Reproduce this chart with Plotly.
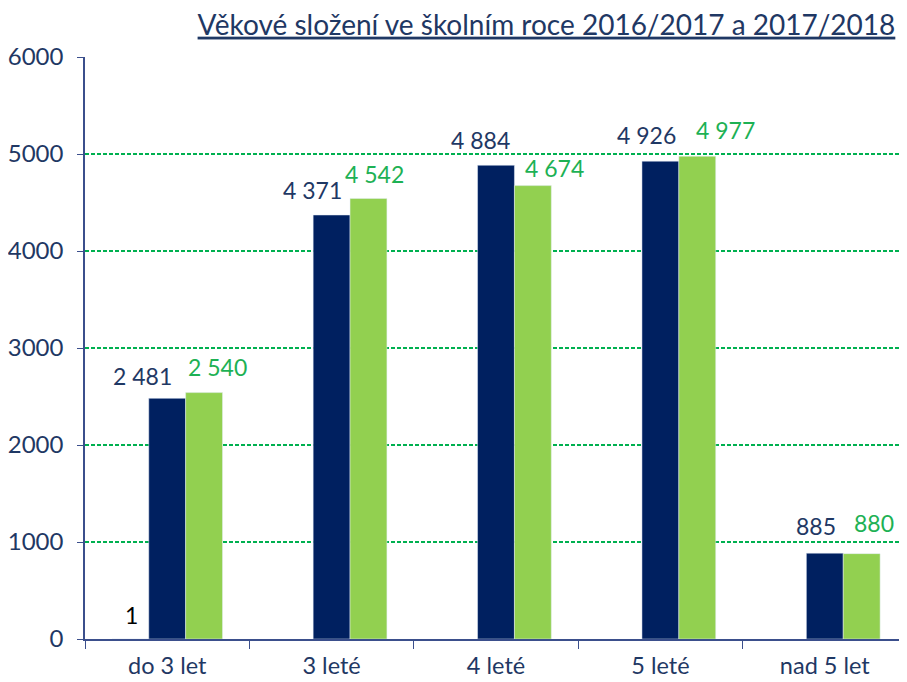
import plotly.graph_objects as go

categories = ["do 3 let", "3 leté", "4 leté", "5 leté", "nad 5 let"]
y_small = [1, None, None, None, None]
y2016 = [2481, 4371, 4884, 4926, 885]
y2017 = [2540, 4542, 4674, 4977, 880]
labels_small = ["1", "", "", "", ""]
labels2016 = ["2 481", "4 371", "4 884", "4 926", "885"]
labels2017 = ["2 540", "4 542", "4 674", "4 977", "880"]

# manual label offsets in px (style only)
dx_s = [-35.5, 0, 0, 0, 0]
dy_s = [24, 0, 0, 0, 0]
dx16 = [-24.5, -19.5, -16, -13.5, -8.5]
dy16 = [22.8, 24.7, 25.1, 26, 27.3]
dx17 = [50.5, 43, 58, 65.5, 49.5]
dy17 = [26.1, 24.7, 17.4, 26.1, 30.8]

NAVY = "#002060"
GREEN = "#92D050"
LBL_NAVY = "#1F3864"
LBL_GREEN = "#1DB154"
AXIS = "#3B4F8C"
FONT = "Lato"

fig = go.Figure()
fig.add_trace(go.Bar(x=categories, y=y_small, marker_color="#000000", name="s0"))
fig.add_trace(go.Bar(x=categories, y=y2016, marker_color=NAVY, name="2016/2017"))
fig.add_trace(go.Bar(x=categories, y=y2017, marker_color=GREEN, name="2017/2018"))

ann = []
def add_labels(vals, texts, dxs, dys, color):
    for c, v, t, dx, dy in zip(categories, vals, texts, dxs, dys):
        if v is None or not t:
            continue
        ann.append(dict(x=c, y=v, text=t, showarrow=False, xshift=dx, yshift=dy,
                        font=dict(color=color, size=23, family=FONT)))

add_labels(y_small, labels_small, dx_s, dy_s, "#000000")
add_labels(y2016, labels2016, dx16, dy16, LBL_NAVY)
add_labels(y2017, labels2017, dx17, dy17, LBL_GREEN)

fig.update_layout(
    width=899, height=674,
    margin=dict(l=77, r=0, t=49, b=43),
    paper_bgcolor="white", plot_bgcolor="white",
    showlegend=False,
    barmode="group", bargap=0.327, bargroupgap=0,
    font=dict(family=FONT, color=LBL_NAVY, size=22),
    title=dict(text="<u>Věkové složení ve školním roce 2016/2017 a 2017/2018</u>",
               x=0.987, xanchor="right", y=0.975, yanchor="middle",
               font=dict(size=28, color=LBL_NAVY, family=FONT)),
    annotations=ann,
)
fig.update_xaxes(showline=True, linecolor=AXIS, linewidth=1.5,
                 ticks="outside", tickson="boundaries", ticklen=8, tickcolor=AXIS,
                 ticklabelstandoff=5,
                 showgrid=False, tickfont=dict(size=23.5, color=LBL_NAVY, family=FONT))
fig.update_yaxes(range=[0, 6000], dtick=1000, showline=True, linecolor=AXIS, linewidth=1.5,
                 ticks="outside", ticklen=6, tickcolor=AXIS, ticklabelstandoff=9,
                 showgrid=True, gridcolor="#00B050", griddash="4px,2px", gridwidth=1.6,
                 zeroline=False, tickfont=dict(size=24, color=LBL_NAVY, family=FONT))

fig.write_html("out.html")
